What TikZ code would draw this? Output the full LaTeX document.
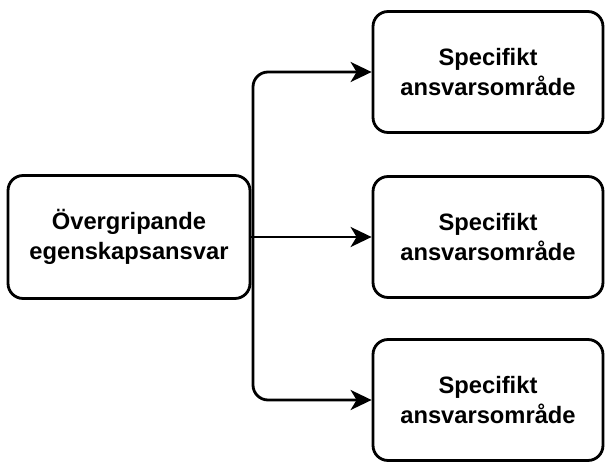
\documentclass[tikz,border=0pt]{standalone}
\usepackage{fontspec}
\setmainfont{Liberation Sans}
\usetikzlibrary{arrows.meta,positioning}

\tikzset{
  box/.style={draw, line width=1.6pt, rounded corners=0.3cm, fill=white,
    align=center, font=\bfseries\fontsize{13.5pt}{17pt}\selectfont},
  mainbox/.style={box, minimum width=4.84cm, minimum height=2.46cm},
  areabox/.style={box, minimum width=4.6cm, minimum height=2.42cm},
  link/.style={line width=1.6pt, rounded corners=0.3cm, -{Stealth[length=0.42cm,width=0.4cm,inset=0.12cm]}}
}

\begin{document}
\begin{tikzpicture}[x=0.02cm,y=-0.02cm]
	%%%%% START %%%%%
	\useasboundingbox (0, 0) rectangle (610, 463);
	
	\node[mainbox] (owner) at (129, 237) {Övergripande\\egenskapsansvar};
	
	\node[areabox] (areaA) at (488, 72) {Specifikt\\ansvarsområde};
	\node[areabox] (areaB) at (488, 237) {Specifikt\\ansvarsområde};
	\node[areabox] (areaC) at (488, 400) {Specifikt\\ansvarsområde};
	
	\coordinate (split) at (253, 237);
	
	\draw[link] (owner.east) -- (areaB.west);
	\draw[link] (split) |- (areaA.west);
	\draw[link] (split) |- (areaC.west);
	
	%%%%% END %%%%%
\end{tikzpicture}
\end{document}
